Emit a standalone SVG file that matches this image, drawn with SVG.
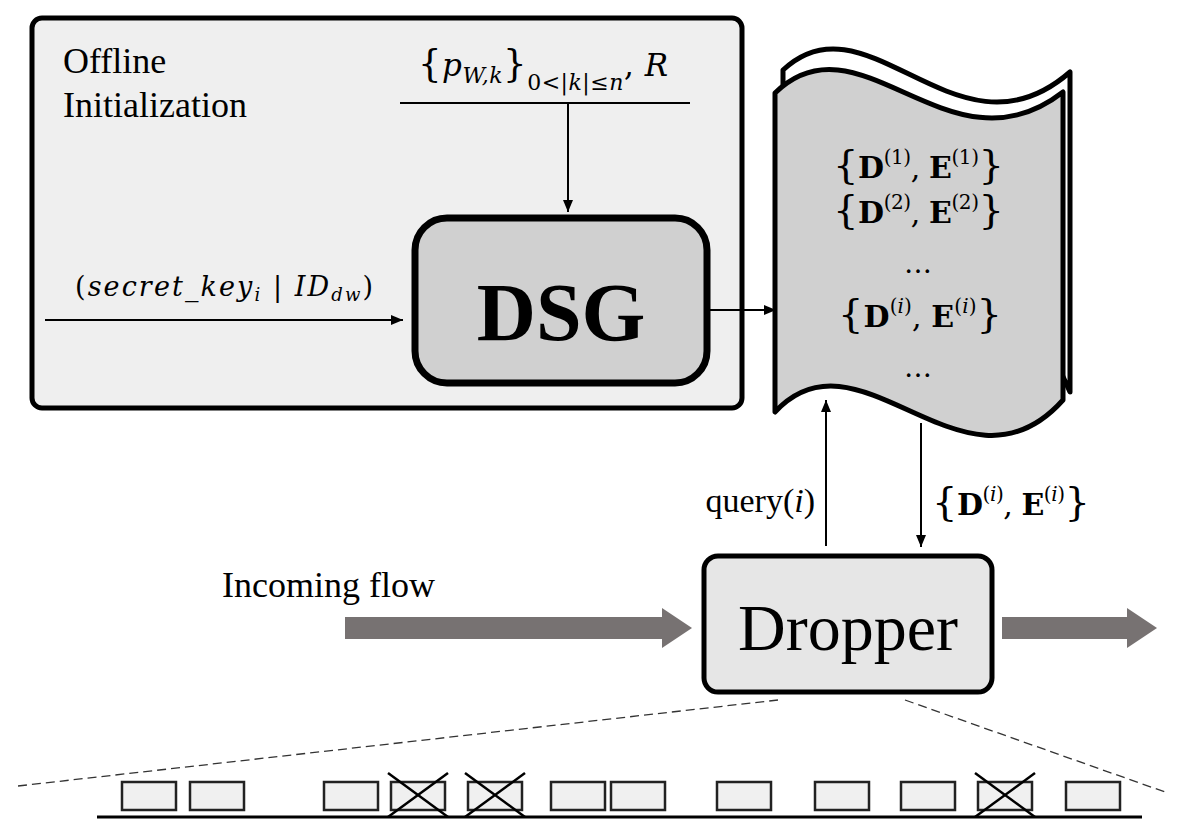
<svg xmlns="http://www.w3.org/2000/svg" width="1182" height="827" viewBox="0 0 1182 827">
<style>
.t{font-family:"Liberation Serif","Times New Roman",serif;fill:#000}
.m{font-family:"DejaVu Serif","Liberation Serif",serif;fill:#000}
.it{font-style:italic}
.bd{font-weight:bold}
.ln{stroke:#000;stroke-width:2;fill:none}
.sb{fill:#f0f0f0;stroke:#222;stroke-width:2.5}
.x{stroke:#000;stroke-width:2.5}
.dash{stroke:#333;stroke-width:1.3;stroke-dasharray:9 5;fill:none}
.ga{fill:#777272}
</style>
<defs>
<marker id="ah" viewBox="0 0 12 10" refX="12" refY="5" markerWidth="12" markerHeight="10" markerUnits="userSpaceOnUse" orient="auto">
<path d="M0,0 L12,5 L0,10 Z" fill="#000"/>
</marker>
</defs>

<g id="offline">
<rect x="32" y="18" width="710" height="390" rx="10" fill="#efefef" stroke="#000" stroke-width="5"/>
<text class="t" x="63" y="73" font-size="36">Offline</text>
<text class="t" x="63" y="117" font-size="36">Initialization</text>
</g>

<g id="params">
<text class="m" y="76" font-size="31" textLength="250" lengthAdjust="spacing"><tspan x="418" font-size="37">{</tspan><tspan class="it">p</tspan><tspan class="it" font-size="22" dy="7">W,k</tspan><tspan font-size="37" dy="-7">}</tspan><tspan font-size="22" dy="14">0&lt;|</tspan><tspan font-size="22" class="it">k</tspan><tspan font-size="22">|≤</tspan><tspan font-size="22" class="it">n</tspan><tspan dy="-14">, </tspan><tspan class="it">R</tspan></text>
<line x1="400" y1="103" x2="690" y2="103" stroke="#000" stroke-width="2"/>
</g>

<g id="dsg">
<rect x="415" y="218" width="292" height="165" rx="32" fill="#d0d0d0" stroke="#000" stroke-width="7"/>
<text class="t bd" x="561" y="340" font-size="82" text-anchor="middle">DSG</text>
</g>

<g id="keylabel">
<text class="m" x="75" y="296" font-size="27" textLength="298" lengthAdjust="spacing">(<tspan class="it">secret_key</tspan><tspan class="it" font-size="18" dy="5">i</tspan><tspan dy="-5"> | </tspan><tspan class="it">ID</tspan><tspan class="it" font-size="18" dy="5">dw</tspan><tspan dy="-5">)</tspan></text>
</g>

<g id="store">
<path d="M783,90 L783,70 C868,-10 958,170 1070,72 L1070,392 L1060,370 L783,370 Z" fill="#fff" stroke="#000" stroke-width="5" stroke-linejoin="round"/>
<path d="M775,93 C860,10 950,180 1063,92 L1063,400 C965,510 860,320 775,412 Z" fill="#d0d0d0" stroke="#000" stroke-width="5" stroke-linejoin="round"/>
<text class="m" x="833" y="178" font-size="30" textLength="171" lengthAdjust="spacing"><tspan font-size="40">{</tspan><tspan class="bd">D</tspan><tspan font-size="20" dy="-14">(1)</tspan><tspan dy="14">, </tspan><tspan class="bd">E</tspan><tspan font-size="20" dy="-14">(1)</tspan><tspan font-size="40" dy="14">}</tspan></text>
<text class="m" x="833" y="223" font-size="30" textLength="171" lengthAdjust="spacing"><tspan font-size="40">{</tspan><tspan class="bd">D</tspan><tspan font-size="20" dy="-14">(2)</tspan><tspan dy="14">, </tspan><tspan class="bd">E</tspan><tspan font-size="20" dy="-14">(2)</tspan><tspan font-size="40" dy="14">}</tspan></text>
<text class="m" x="918" y="273" font-size="28" text-anchor="middle">…</text>
<text class="m" x="838" y="327" font-size="30" textLength="164" lengthAdjust="spacing"><tspan font-size="40">{</tspan><tspan class="bd">D</tspan><tspan font-size="20" dy="-14">(</tspan><tspan font-size="20" class="it">i</tspan><tspan font-size="20">)</tspan><tspan dy="14">, </tspan><tspan class="bd">E</tspan><tspan font-size="20" dy="-14">(</tspan><tspan font-size="20" class="it">i</tspan><tspan font-size="20">)</tspan><tspan font-size="40" dy="14">}</tspan></text>
<text class="m" x="918" y="377" font-size="28" text-anchor="middle">…</text>
</g>

<g id="dropper">
<rect x="704" y="556" width="288" height="136" rx="14" fill="#e6e6e6" stroke="#000" stroke-width="5"/>
<text class="t" x="848" y="650" font-size="66" text-anchor="middle">Dropper</text>
</g>

<g id="labels">
<text class="t" x="222" y="597" font-size="36">Incoming flow</text>
<text class="t" x="815" y="512" font-size="34" text-anchor="end">query(<tspan class="it">i</tspan>)</text>
<text class="m" x="932" y="515" font-size="30" textLength="158" lengthAdjust="spacing"><tspan font-size="40">{</tspan><tspan class="bd">D</tspan><tspan font-size="20" dy="-14">(</tspan><tspan font-size="20" class="it">i</tspan><tspan font-size="20">)</tspan><tspan dy="14">, </tspan><tspan class="bd">E</tspan><tspan font-size="20" dy="-14">(</tspan><tspan font-size="20" class="it">i</tspan><tspan font-size="20">)</tspan><tspan font-size="40" dy="14">}</tspan></text>
</g>

<g id="connectors">
<line class="ln" x1="568" y1="103" x2="568" y2="212" marker-end="url(#ah)"/>
<line class="ln" x1="45" y1="320" x2="403" y2="320" marker-end="url(#ah)"/>
<line class="ln" x1="708" y1="310" x2="776" y2="310" marker-end="url(#ah)"/>
<line class="ln" x1="826" y1="546" x2="826" y2="400" marker-end="url(#ah)"/>
<line class="ln" x1="921" y1="423" x2="921" y2="547" marker-end="url(#ah)"/>
<path class="ga" d="M345,617 L662,617 L662,608 L692,628 L662,648 L662,639 L345,639 Z"/>
<path class="ga" d="M1002,617 L1127,617 L1127,608 L1157,628 L1127,648 L1127,639 L1002,639 Z"/>
<line class="dash" x1="18" y1="786" x2="778" y2="700"/>
<line class="dash" x1="905" y1="700" x2="1165" y2="792"/>
</g>

<g id="stream">
<line x1="97" y1="817" x2="1142" y2="817" stroke="#000" stroke-width="3"/>
<rect class="sb" x="122" y="782" width="54" height="28"/>
<rect class="sb" x="190" y="782" width="54" height="28"/>
<rect class="sb" x="324" y="782" width="54" height="28"/>
<rect class="sb" x="391" y="782" width="54" height="28"/>
<rect class="sb" x="468" y="782" width="54" height="28"/>
<rect class="sb" x="551" y="782" width="54" height="28"/>
<rect class="sb" x="611" y="782" width="54" height="28"/>
<rect class="sb" x="717" y="782" width="54" height="28"/>
<rect class="sb" x="815" y="782" width="54" height="28"/>
<rect class="sb" x="901" y="782" width="54" height="28"/>
<rect class="sb" x="978" y="782" width="54" height="28"/>
<rect class="sb" x="1066" y="782" width="54" height="28"/>
<line class="x" x1="388" y1="773" x2="448" y2="817"/><line class="x" x1="448" y1="773" x2="388" y2="817"/>
<line class="x" x1="465" y1="773" x2="525" y2="817"/><line class="x" x1="525" y1="773" x2="465" y2="817"/>
<line class="x" x1="975" y1="773" x2="1035" y2="817"/><line class="x" x1="1035" y1="773" x2="975" y2="817"/>
</g>
</svg>
